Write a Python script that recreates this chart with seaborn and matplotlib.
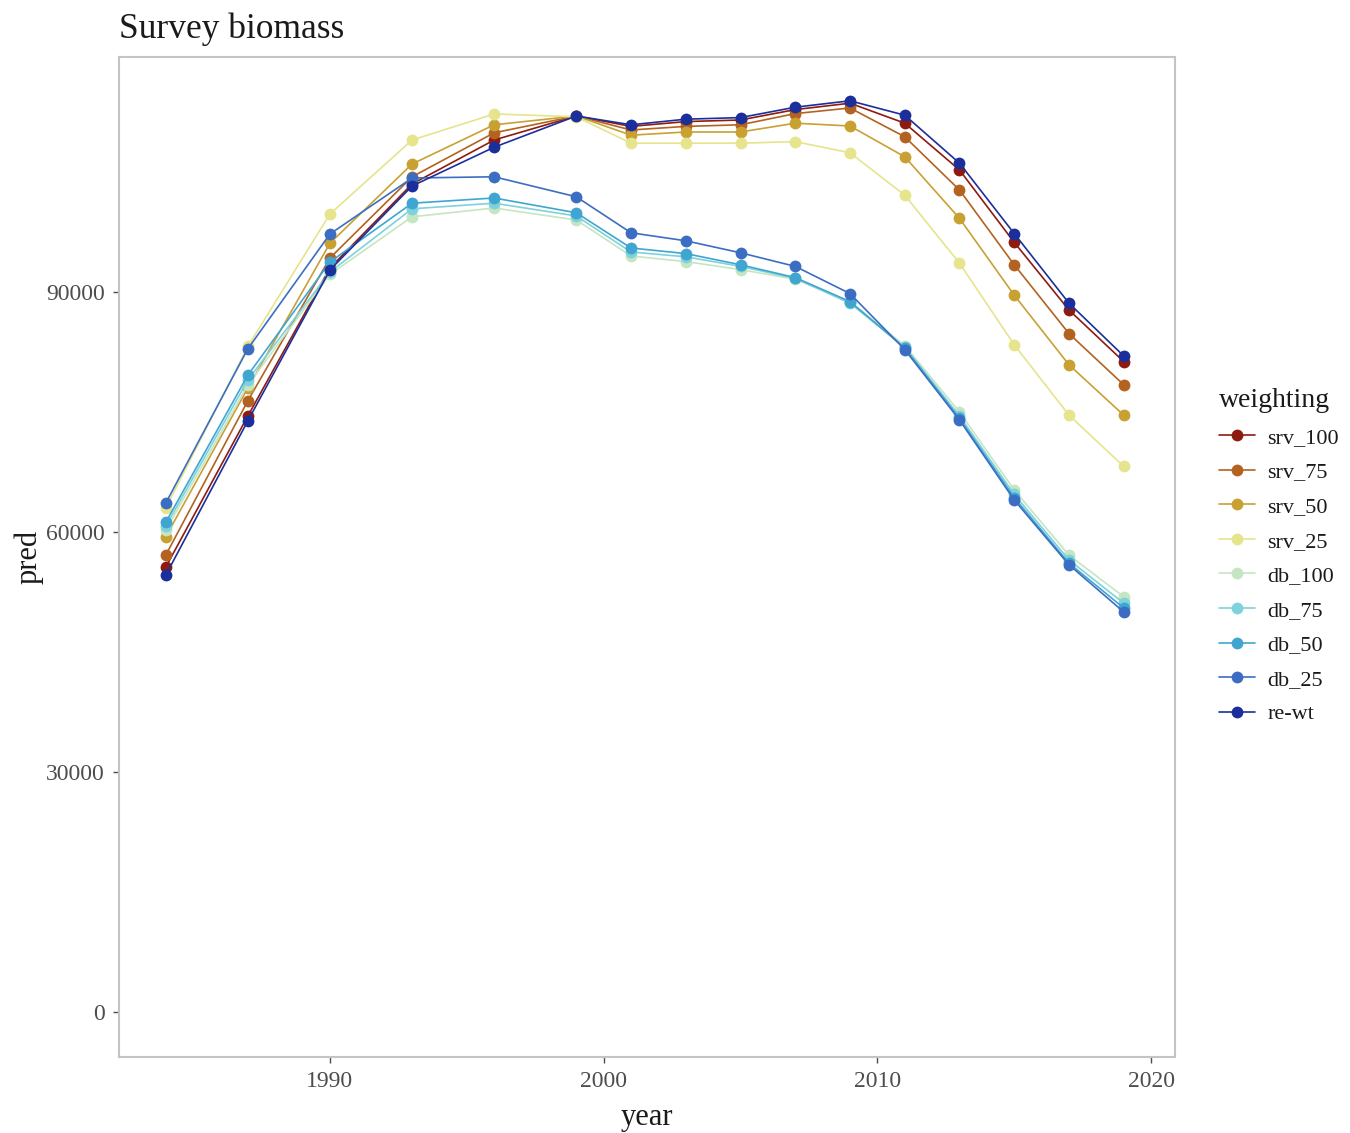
import matplotlib
matplotlib.use("Agg")
import matplotlib.pyplot as plt
import seaborn as sns
import pandas as pd

years = [1984, 1987, 1990, 1993, 1996, 1999, 2001, 2003, 2005, 2007, 2009, 2011, 2013, 2015, 2017, 2019]

srv_100 = [55600, 74500, 93000, 103500, 109000, 112000, 110700, 111300, 111500, 112800, 113600, 111100, 105250, 96200, 87750, 81300]
srv_75  = [57100, 76400, 94250, 104400, 109900, 112000, 110250, 110700, 110900, 112300, 113000, 109400, 102750, 93400, 84800, 78400]
srv_50  = [59400, 78000, 96100, 106000, 110900, 112000, 109600, 110000, 110000, 111100, 110750, 106900, 99200, 89600, 80900, 74600]
srv_25  = [63000, 83200, 99750, 109000, 112250, 111900, 108600, 108600, 108600, 108800, 107400, 102100, 93600, 83400, 74600, 68200]
db_100  = [60200, 78400, 92200, 99400, 100500, 99000, 94500, 93800, 92800, 91600, 88800, 83300, 75000, 65250, 57100, 51900]
db_75   = [60700, 79000, 92500, 100400, 101100, 99500, 95000, 94400, 93200, 91700, 88600, 83100, 74500, 64700, 56500, 51100]
db_50   = [61200, 79600, 93750, 101100, 101750, 99900, 95500, 94800, 93400, 91800, 88800, 83000, 74200, 64300, 56100, 50500]
db_25   = [63600, 82900, 97250, 104250, 104400, 101900, 97400, 96400, 94900, 93200, 89800, 82800, 74000, 64000, 55900, 50000]
re_wt   = [54600, 73900, 92750, 103250, 108100, 112000, 110900, 111600, 111800, 113100, 113900, 112100, 106100, 97300, 88600, 82000]

weightings = ["srv_100", "srv_75", "srv_50", "srv_25", "db_100", "db_75", "db_50", "db_25", "re-wt"]
series = [srv_100, srv_75, srv_50, srv_25, db_100, db_75, db_50, db_25, re_wt]
colors = ["#8E1B10", "#B3621F", "#C9A032", "#E6E48C", "#C6E5C2", "#7ED2DC", "#40A6D1", "#3B6EC3", "#1B2F9C"]

rows = []
for w, vals in zip(weightings, series):
    for yr, v in zip(years, vals):
        rows.append({"year": yr, "pred": v, "weighting": w})
df = pd.DataFrame(rows)

sns.set_theme(style="white")
plt.rcParams["font.family"] = ["Liberation Serif", "DejaVu Serif"]

fig = plt.figure(figsize=(13.5, 11.33), dpi=100)
ax = fig.add_axes([0.0881, 0.0671, 0.7822, 0.8826])

sns.lineplot(data=df, x="year", y="pred", hue="weighting", hue_order=weightings,
             palette=colors, marker="o", markersize=8.5, markeredgewidth=0,
             linewidth=1.2, ax=ax, legend=True)

ax.set_xlim(1982.29, 2020.87)
ax.set_ylim(-5625, 119375)
ax.set_xticks([1990, 2000, 2010, 2020])
ax.set_yticks([0, 30000, 60000, 90000])
ax.tick_params(axis="both", labelsize=17, colors="#4D4D4D", length=4, width=1,
               direction="out", pad=6, bottom=True, left=True)
for s in ax.spines.values():
    s.set_color("#C4C4C4")
    s.set_linewidth(1.5)
ax.grid(False)

ax.set_xlabel("year", fontsize=22, color="#1A1A1A", labelpad=8)
ax.set_ylabel("pred", fontsize=22, color="#1A1A1A", labelpad=2)
fig.text(0.0881, 0.989, "Survey biomass", fontsize=25.5, color="#1A1A1A", va="top", ha="left")

handles, labels = ax.get_legend_handles_labels()
if ax.legend_:
    ax.legend_.remove()
leg = fig.legend(handles, labels, title="weighting", loc="upper left",
                 bbox_to_anchor=(0.9, 1 - 384 / 1133), frameon=False,
                 fontsize=16, title_fontsize=20, labelspacing=0.63,
                 handlelength=1.6, handletextpad=0.55, alignment="left",
                 borderaxespad=0, borderpad=0.2)
for t in leg.get_texts():
    t.set_color("#1A1A1A")
leg.get_title().set_color("#1A1A1A")

fig.savefig("out.png", dpi=100)
